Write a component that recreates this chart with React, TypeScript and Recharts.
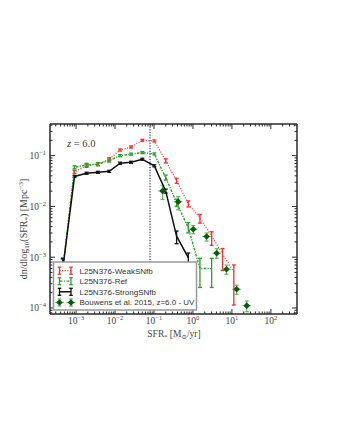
import React from "react";
import { ComposedChart, Scatter, XAxis, YAxis, ErrorBar, ReferenceLine } from "recharts";

// SFR bin centres [Msun/yr], shared by the simulation runs
const sfrBins = [4.57e-4, 9.12e-4, 1.86e-3, 3.63e-3, 7.08e-3, 0.0135, 0.0257, 0.0501, 0.102, 0.2, 0.38, 0.759, 1.51, 3.02, 5.75, 11.2];

// L25N376-WeakSNfb
const weakPhi = [0.0006, 0.048, 0.063, 0.068, 0.085, 0.129, 0.148, 0.2, 0.195, 0.079, 0.032, 0.0112, 0.0059, 0.0026, 0.00115, 0.00051];
const weakErrDn = [0.3, 0.03, 0.03, 0.03, 0.03, 0.02, 0.02, 0.02, 0.02, 0.04, 0.05, 0.06, 0.1, 0.18, 0.32, 0.65];
const weakErrUp = [0.18, 0.03, 0.03, 0.03, 0.03, 0.02, 0.02, 0.02, 0.02, 0.04, 0.05, 0.06, 0.07, 0.085, 0.11, 0.14];

// L25N376-Ref
const refPhi = [0.0006, 0.059, 0.066, 0.068, 0.08, 0.1, 0.107, 0.115, 0.108, 0.037, 0.0118, 0.0038, 0.0006, 0.0006];
const refErrDn = [0.37, 0.03, 0.03, 0.03, 0.03, 0.02, 0.02, 0.02, 0.02, 0.05, 0.07, 0.1, 0.375, 0.375];
const refErrUp = [0.2, 0.03, 0.03, 0.03, 0.03, 0.02, 0.02, 0.02, 0.02, 0.05, 0.07, 0.1, 0.2, 0.2];

// L25N376-StrongSNfb
const strongPhi = [0.0006, 0.039, 0.045, 0.047, 0.049, 0.071, 0.074, 0.085, 0.063, 0.02, 0.0026, 0.00098];
const strongErrDn = [0.37, 0.02, 0.02, 0.02, 0.02, 0.02, 0.02, 0.02, 0.02, 0.04, 0.15, 0.12];
const strongErrUp = [0.2, 0.02, 0.02, 0.02, 0.02, 0.02, 0.02, 0.02, 0.02, 0.04, 0.1, 0.09];

// Bouwens et al. 2015, z=6 UV
const bouwensSfr = [0.166, 0.417, 1.02, 2.24, 4.07, 7.24, 13.2, 24.0];
const bouwensPhi = [0.0202, 0.0124, 0.00356, 0.00255, 0.0012, 0.00058, 0.000234, 0.000111];
const bouwensErrDn = [0.17, 0.16, 0.09, 0.09, 0.1, 0.1, 0.1, 0.12];
const bouwensErrUp = [0.11, 0.1, 0.07, 0.07, 0.09, 0.08, 0.08, 0.09];

const resolutionSfr = 0.079;
const legendLabels = ["L25N376-WeakSNfb", "L25N376-Ref", "L25N376-StrongSNfb", "Bouwens et al. 2015, z=6.0 - UV"];

const X_DOMAIN = [2.14e-4, 468];
const Y_DOMAIN = [7.6e-5, 0.42];

const AX = "#2b2b2b";
const TXT = "#444";
const RED = "#ff2a2a";
const GREEN = "#2ca02c";
const DKGREEN = "#0a5c0a";
const LTGREEN = "#5cb85c";
const SERIF = "'Liberation Serif', 'DejaVu Serif', serif";
const SANS = "'Liberation Sans', Arial, sans-serif";

const rows = (sfr: number[], phi: number[], dn: number[], up: number[]) =>
  phi.map((p, i) => ({
    sfr: sfr[i],
    phi: p,
    err: [p * (1 - Math.pow(10, -dn[i])), p * (Math.pow(10, up[i]) - 1)],
  }));

const weakRows = rows(sfrBins, weakPhi, weakErrDn, weakErrUp);
const refRows = rows(sfrBins, refPhi, refErrDn, refErrUp);
const strongRows = rows(sfrBins, strongPhi, strongErrDn, strongErrUp);
const bouwensRows = rows(bouwensSfr, bouwensPhi, bouwensErrDn, bouwensErrUp);

const logTicks = (lo: number, hi: number) => {
  const out: number[] = [];
  for (let e = Math.floor(Math.log10(lo)); e <= Math.ceil(Math.log10(hi)); e++) {
    for (let m = 1; m < 10; m++) {
      const v = m * Math.pow(10, e);
      if (v >= lo && v <= hi) out.push(v);
    }
  }
  return out;
};
const xTicks = logTicks(X_DOMAIN[0], X_DOMAIN[1]);
const yTicks = logTicks(Y_DOMAIN[0], Y_DOMAIN[1]);

const expOf = (v: number) => Math.round(Math.log10(v));
const isMajor = (v: number) => Math.abs(Math.log10(v) - expOf(v)) < 1e-6;
const expText = (v: number) => {
  const e = expOf(v);
  return e < 0 ? "\u2212" + Math.abs(e) : String(e);
};

// plot box edges in page pixels
const PLOT = { left: 50, top: 124, right: 297, bottom: 314 };

const BottomTick = (props: any) => {
  const { x, payload } = props;
  const y = PLOT.bottom;
  const major = isMajor(payload.value);
  return (
    <g>
      <line x1={x} x2={x} y1={y} y2={y - (major ? 5 : 2.5)} stroke={AX} strokeWidth={1} />
      {major && (
        <text x={x} y={y + 10} textAnchor="middle" fontFamily={SERIF} fontSize={9.5} fill={TXT}>
          10<tspan dy={-4} fontSize={6.5}>{expText(payload.value)}</tspan>
        </text>
      )}
    </g>
  );
};

const TopTick = (props: any) => {
  const { x, payload } = props;
  const y = PLOT.top;
  const major = isMajor(payload.value);
  return <line x1={x} x2={x} y1={y} y2={y + (major ? 5 : 2.5)} stroke={AX} strokeWidth={1} />;
};

const LeftTick = (props: any) => {
  const { y, payload } = props;
  const x = PLOT.left;
  const major = isMajor(payload.value);
  return (
    <g>
      <line x1={x} x2={x + (major ? 5 : 2.5)} y1={y} y2={y} stroke={AX} strokeWidth={1} />
      {major && (
        <text x={x - 4} y={y + 3.5} textAnchor="end" fontFamily={SERIF} fontSize={9.5} fill={TXT}>
          10<tspan dy={-4} fontSize={6.5}>{expText(payload.value)}</tspan>
        </text>
      )}
    </g>
  );
};

const RightTick = (props: any) => {
  const { y, payload } = props;
  const x = PLOT.right;
  const major = isMajor(payload.value);
  return <line x1={x} x2={x - (major ? 5 : 2.5)} y1={y} y2={y} stroke={AX} strokeWidth={1} />;
};

const NoMark = () => <g />;

const Diamond = (props: any) => {
  const { cx, cy } = props;
  const r = 3.3;
  return (
    <g>
      <line x1={cx - 4.3} x2={cx + 4.3} y1={cy} y2={cy} stroke={LTGREEN} strokeWidth={1} />
      <polygon points={`${cx},${cy - r} ${cx + r},${cy} ${cx},${cy + r} ${cx - r},${cy}`} fill={DKGREEN} />
    </g>
  );
};

const Cap = ({ x, y, color }: { x: number; y: number; color: string }) => (
  <g stroke={color} strokeWidth={1.3}>
    <line x1={x} x2={x} y1={y - 3.5} y2={y + 3.5} />
    <line x1={x - 1.8} x2={x + 1.8} y1={y - 3.5} y2={y - 3.5} />
    <line x1={x - 1.8} x2={x + 1.8} y1={y + 3.5} y2={y + 3.5} />
  </g>
);

const Overlay = () => {
  const rowY = [270.7, 281.2, 291.8, 302.5];
  const mx1 = 59.5;
  const mx2 = 71;
  return (
    <svg width={340} height={440} style={{ position: "absolute", left: 0, top: 0, pointerEvents: "none" }}>
      <text x={67} y={146.5} fontFamily={SERIF} fontSize={10.5} fill={TXT}>
        <tspan fontStyle="italic">z</tspan> = 6.0
      </text>
      <text x={174} y={337} textAnchor="middle" fontFamily={SERIF} fontSize={9.5} fill={TXT}>
        SFR<tspan dy={2} fontSize={6.5}>*</tspan>
        <tspan dy={-2}> [M</tspan>
        <tspan dy={2} fontSize={6.5}>{"\u2299"}</tspan>
        <tspan dy={-2}>/yr]</tspan>
      </text>
      <text
        transform="translate(26.5,229) rotate(-90)"
        textAnchor="middle"
        fontFamily={SERIF}
        fontSize={10}
        fill={TXT}
      >
        dn/dlog<tspan dy={2} fontSize={7}>10</tspan>
        <tspan dy={-2}>(SFR</tspan>
        <tspan dy={2} fontSize={7}>*</tspan>
        <tspan dy={-2}>) [Mpc</tspan>
        <tspan dy={-4} fontSize={7}>{"\u22123"}</tspan>
        <tspan dy={4}>]</tspan>
      </text>

      <rect x={53.5} y={262} width={143} height={48} fill="#fff" stroke="#999" strokeWidth={1.5} />
      {/* WeakSNfb */}
      <line x1={mx1} x2={mx2} y1={rowY[0]} y2={rowY[0]} stroke={RED} strokeWidth={1.2} strokeDasharray="1 1.6" />
      <Cap x={mx1} y={rowY[0]} color={RED} />
      <Cap x={mx2} y={rowY[0]} color={RED} />
      {/* Ref */}
      <line x1={mx1} x2={mx2} y1={rowY[1]} y2={rowY[1]} stroke={GREEN} strokeWidth={1.3} strokeDasharray="3 1.5 1 1.5" />
      <Cap x={mx1} y={rowY[1]} color={GREEN} />
      <Cap x={mx2} y={rowY[1]} color={GREEN} />
      {/* StrongSNfb */}
      <line x1={mx1} x2={mx2} y1={rowY[2]} y2={rowY[2]} stroke="#111" strokeWidth={1.5} />
      <Cap x={mx1} y={rowY[2]} color="#111" />
      <Cap x={mx2} y={rowY[2]} color="#111" />
      {/* Bouwens */}
      <Cap x={mx1} y={rowY[3]} color={LTGREEN} />
      <Cap x={mx2} y={rowY[3]} color={LTGREEN} />
      <Diamond cx={mx1} cy={rowY[3]} />
      <Diamond cx={mx2} cy={rowY[3]} />
      {legendLabels.map((label, i) => (
        <text key={label} x={79.5} y={rowY[i] + 2.8} fontFamily={SANS} fontSize={8} fill="#333">
          {label}
        </text>
      ))}
    </svg>
  );
};

export default function App() {
  return (
    <div style={{ position: "absolute", left: 0, top: 0, width: 340, height: 440, background: "#fff" }}>
      <ComposedChart width={340} height={440} margin={{ top: 114, right: 33, bottom: 116, left: 40 }}>
        <XAxis
          dataKey="sfr"
          type="number"
          scale="log"
          domain={X_DOMAIN}
          allowDataOverflow
          ticks={xTicks}
          interval={0}
          height={10}
          tickSize={0}
          tickLine={false}
          tick={BottomTick}
          axisLine={{ stroke: AX, strokeWidth: 1.5 }}
        />
        <XAxis
          xAxisId="top"
          orientation="top"
          dataKey="sfr"
          type="number"
          scale="log"
          domain={X_DOMAIN}
          allowDataOverflow
          ticks={xTicks}
          interval={0}
          height={10}
          tickSize={0}
          tickLine={false}
          tick={TopTick}
          axisLine={{ stroke: AX, strokeWidth: 1.5 }}
        />
        <YAxis
          dataKey="phi"
          type="number"
          scale="log"
          domain={Y_DOMAIN}
          allowDataOverflow
          ticks={yTicks}
          interval={0}
          width={10}
          tickSize={0}
          tickLine={false}
          tick={LeftTick}
          axisLine={{ stroke: AX, strokeWidth: 1.5 }}
        />
        <YAxis
          yAxisId="right"
          orientation="right"
          dataKey="phi"
          type="number"
          scale="log"
          domain={Y_DOMAIN}
          allowDataOverflow
          ticks={yTicks}
          interval={0}
          width={10}
          tickSize={0}
          tickLine={false}
          tick={RightTick}
          axisLine={{ stroke: AX, strokeWidth: 1.5 }}
        />
        <ReferenceLine x={resolutionSfr} stroke="#111" strokeWidth={1} strokeDasharray="1.2 1.5" />
        <Scatter
          name="L25N376-WeakSNfb"
          data={weakRows}
          fill={RED}
          shape={NoMark}
          line={{ stroke: RED, strokeWidth: 1.2, strokeDasharray: "1 1.6" }}
          isAnimationActive={false}
        >
          <ErrorBar dataKey="err" direction="y" width={2} stroke={RED} strokeWidth={1.3} />
        </Scatter>
        <Scatter
          name="L25N376-Ref"
          data={refRows}
          fill={GREEN}
          shape={NoMark}
          line={{ stroke: GREEN, strokeWidth: 1.4, strokeDasharray: "1.2 1.3 2.5 1.3" }}
          isAnimationActive={false}
        >
          <ErrorBar dataKey="err" direction="y" width={2} stroke={GREEN} strokeWidth={1.3} />
        </Scatter>
        <Scatter
          name="L25N376-StrongSNfb"
          data={strongRows}
          fill="#111"
          shape={NoMark}
          line={{ stroke: "#111", strokeWidth: 1.5 }}
          isAnimationActive={false}
        >
          <ErrorBar dataKey="err" direction="y" width={2} stroke="#111" strokeWidth={1.3} />
        </Scatter>
        <Scatter name="Bouwens et al. 2015" data={bouwensRows} fill={DKGREEN} shape={Diamond} isAnimationActive={false}>
          <ErrorBar dataKey="err" direction="y" width={2} stroke={LTGREEN} strokeWidth={1.2} />
        </Scatter>
      </ComposedChart>
      <Overlay />
    </div>
  );
}
